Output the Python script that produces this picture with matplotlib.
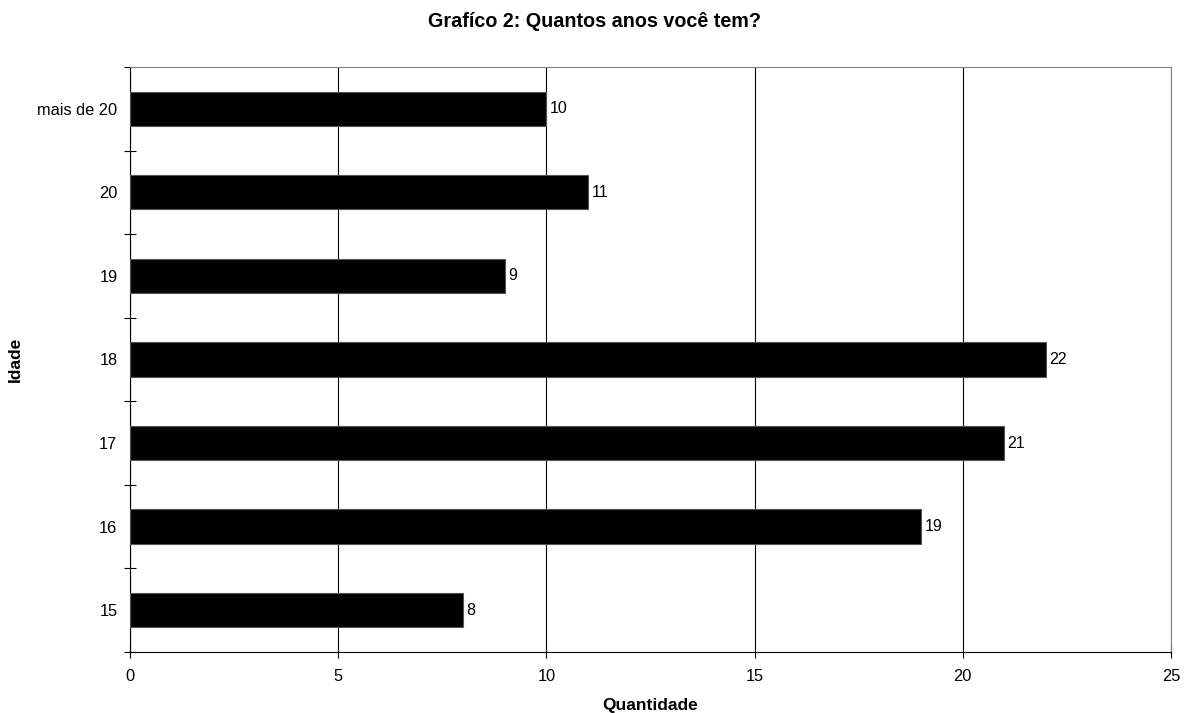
import matplotlib.pyplot as plt
import numpy as np

plt.rcParams['font.family'] = ['Liberation Sans', 'DejaVu Sans']

idades = ['15', '16', '17', '18', '19', '20', 'mais de 20']
quantidade = [8, 19, 21, 22, 9, 11, 10]

fig = plt.figure(figsize=(11.89, 7.13), dpi=100)
ax = fig.add_axes([0.1093, 0.0856, 0.8755, 0.8204])

y = np.arange(len(idades))
ax.barh(y, quantidade, height=0.41, color='black', edgecolor='#555555',
        linewidth=0.8, zorder=3)

for yi, v in zip(y, quantidade):
    ax.text(v + 0.08, yi, str(v), va='center', ha='left', fontsize=11.5, zorder=4)

ax.set_xlim(0, 25)
ax.set_ylim(-0.5, len(idades) - 0.5)
ax.set_xticks(range(0, 26, 5))
ax.set_yticks(y)
ax.set_yticklabels(idades)
ax.set_yticks(np.arange(-0.5, len(idades), 1), minor=True)

ax.xaxis.grid(True, color='black', linewidth=0.8, zorder=0)
ax.tick_params(axis='y', which='major', length=0, labelsize=11.8, pad=9)
ax.tick_params(axis='y', which='minor', length=8, direction='inout', width=0.8)
ax.tick_params(axis='x', length=8, direction='inout', width=0.8, labelsize=11.8, pad=8)

ax.spines['top'].set_color('#808080')
ax.spines['right'].set_color('#808080')
ax.spines['left'].set_color('black')
ax.spines['bottom'].set_color('black')
for s in ax.spines.values():
    s.set_linewidth(0.8)

ax.set_xlabel('Quantidade', fontsize=12.5, fontweight='bold', labelpad=10)
ax.set_ylabel('Idade', fontsize=12.5, fontweight='bold')
ax.yaxis.set_label_coords(-0.103, 0.5)
fig.text(0.5, 0.97, 'Grafíco 2: Quantos anos você tem?', ha='center', va='center',
         fontsize=14.2, fontweight='bold')

fig.savefig('out.png', dpi=100)
